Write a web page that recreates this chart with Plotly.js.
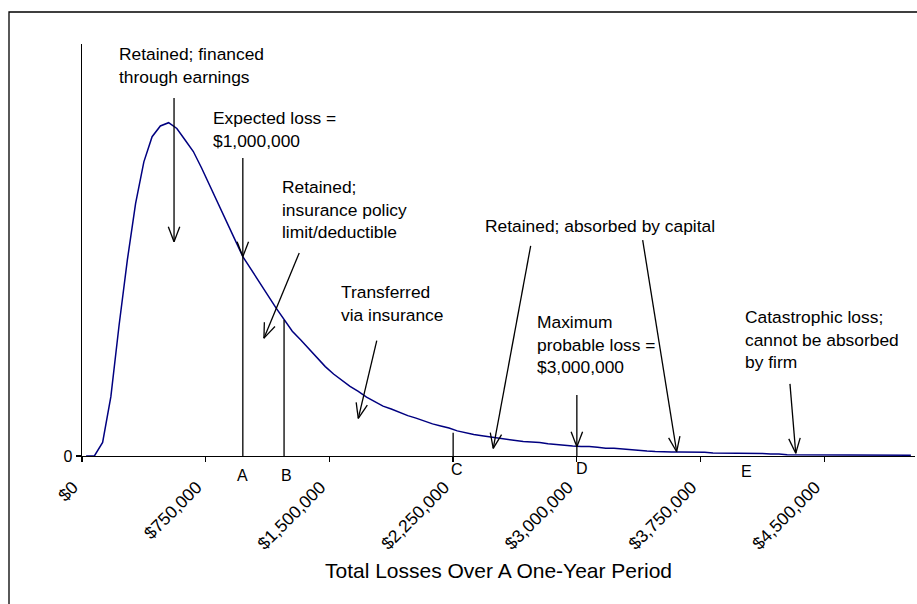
<!DOCTYPE html>
<html>
<head>
<meta charset="utf-8">
<script src="https://cdn.plot.ly/plotly-3.0.1.min.js"></script>
<style>
  html, body { margin: 0; padding: 0; background: #ffffff; }
  #chart { width: 917px; height: 604px; }
</style>
</head>
<body>
<div id="chart"></div>
<script>
// ---------------- data ----------------
// loss amount at the centre of each category (dollars)
const lossX = [
  25000, 75000, 125000, 175000, 225000, 275000, 325000, 375000, 425000, 475000,
  525000, 575000, 625000, 675000, 725000, 775000, 825000, 875000, 925000, 975000,
  1025000, 1075000, 1125000, 1175000, 1225000, 1275000, 1325000, 1375000, 1425000, 1475000,
  1525000, 1575000, 1625000, 1675000, 1725000, 1775000, 1825000, 1875000, 1925000, 1975000,
  2025000, 2075000, 2125000, 2175000, 2225000, 2275000, 2325000, 2375000, 2425000, 2475000,
  2525000, 2575000, 2625000, 2675000, 2725000, 2775000, 2825000, 2875000, 2925000, 2975000,
  3025000, 3075000, 3125000, 3175000, 3225000, 3275000, 3325000, 3375000, 3425000, 3475000,
  3525000, 3575000, 3625000, 3675000, 3725000, 3775000, 3825000, 3875000, 3925000, 3975000,
  4025000, 4075000, 4125000, 4175000, 4225000, 4275000, 4325000, 4375000, 4425000, 4475000,
  4525000, 4575000, 4625000, 4675000, 4725000, 4775000, 4825000, 4875000, 4925000, 4975000,
  5025000
];
// relative frequency (arbitrary units, axis top = 100)
const lossY = [
  0, 0, 3.3, 14.4, 31.8, 47.6, 61.3, 71.4, 77.5, 80.1,
  80.9, 79.5, 76.7, 73.9, 69.9, 65.5, 61.2, 57.0, 52.7, 48.4,
  45.4, 42.2, 39.1, 36.0, 33.0, 30.3, 28.2, 26.0, 23.8, 21.7,
  19.9, 18.3, 16.9, 15.7, 14.3, 13.2, 12.1, 11.4, 10.6, 9.8,
  9.2, 8.5, 7.8, 7.3, 6.8, 6.1, 5.6, 5.2, 4.9, 4.6,
  4.4, 4.0, 3.8, 3.5, 3.4, 3.3, 3.0, 2.8, 2.5, 2.4,
  2.3, 2.3, 2.1, 1.9, 1.9, 1.7, 1.5, 1.3, 1.2, 1.1,
  1.0, 1.0, 1.0, 1.0, 1.0, 0.9, 0.7, 0.7, 0.6, 0.6,
  0.6, 0.6, 0.6, 0.5, 0.5, 0.3, 0.3, 0.3, 0.3, 0.3,
  0.2, 0.2, 0.2, 0.2, 0.2, 0.2, 0.2, 0.2, 0.2, 0.2,
  0.2
];
const tickValues = [0, 750000, 1500000, 2250000, 3000000, 3750000, 4500000];
const tickLabels = ['$0', '$750,000', '$1,500,000', '$2,250,000', '$3,000,000', '$3,750,000', '$4,500,000'];

// reference points A-E on the loss axis
const markLetters = ['A', 'B', 'C', 'D', 'E'];
const markLetterX = [976000, 1237000, 2271000, 3029000, 4030000];
const markLineX = [975000, 1225000, 2250000, 3000000];
const markLineTop = [lossY[19], lossY[24], 5.66, 2.26];

// explanatory notes
const noteTexts = [
  'Retained; financed<br>through earnings',
  'Expected loss =<br>$1,000,000',
  'Retained;<br>insurance policy<br>limit/deductible',
  'Transferred<br>via insurance',
  'Retained; absorbed by capital',
  'Maximum<br>probable loss =<br>$3,000,000',
  'Catastrophic loss;<br>cannot be absorbed<br>by firm'
];
// arrows: tail -> tip (data units)
const arrowTailX = [558000, 975000, 1317000, 1787000, 2720000, 3399000, 3000000, 4292000];
const arrowTailY = [86.9, 72.3, 49.3, 28.0, 51.0, 52.4, 14.8, 17.5];
const arrowTipX  = [558000, 975000, 1103000, 1675000, 2493000, 3605000, 3000000, 4327000];
const arrowTipY  = [52.0, lossY[19], 28.6, 9.15, 1.87, 1.04, 2.26, 0.66];

// ---------------- layout ----------------
const W = 917, H = 604;
const M = {l: 82, r: 2, t: 44, b: 148};
const PW = W - M.l - M.r, PH = H - M.t - M.b;
const XMAX = 5050000, YMAX = 100;
const px = v => (v - M.l) / PW;          // pixel -> paper x
const py = v => (M.t + PH - v) / PH;     // pixel -> paper y
const FONT = 'Liberation Sans, Arial, sans-serif';

// note positions (left edge px, block centre px)
const notePos = [[118, 65.7], [211.5, 129], [281, 209.7], [340, 303.8], [484, 226], [535.5, 344.7], [744, 339.2]];
const letterY = [475, 475, 469, 468, 471];

const annotations = [];
noteTexts.forEach((t, i) => {
  annotations.push({
    text: t, xref: 'paper', yref: 'paper', x: px(notePos[i][0]), y: py(notePos[i][1]),
    xanchor: 'left', yanchor: 'middle', align: 'left', showarrow: false, borderpad: 0,
    font: {family: FONT, size: 17.4, color: '#000'}
  });
});
markLetters.forEach((t, i) => {
  annotations.push({
    text: t, xref: 'x', yref: 'paper', x: markLetterX[i], y: py(letterY[i]),
    xanchor: 'center', yanchor: 'middle', showarrow: false, borderpad: 0,
    font: {family: FONT, size: 16, color: '#000'}
  });
});

const shapes = [];
// outer frame (top and left edges)
shapes.push({type: 'path', xref: 'paper', yref: 'paper',
  path: `M ${px(9)} ${py(640)} L ${px(9)} ${py(12)} L ${px(940)} ${py(12)}`,
  line: {color: '#000', width: 1.3}});
// vertical reference lines
markLineX.forEach((x, i) => {
  shapes.push({type: 'line', xref: 'x', yref: 'y', x0: x, x1: x, y0: 0, y1: markLineTop[i],
    line: {color: '#000', width: 1.3}});
});
// arrows
const kx = PW / XMAX, ky = PH / YMAX;
const HEAD_LEN = 16, HEAD_ANG = 21 * Math.PI / 180;
arrowTailX.forEach((tx, i) => {
  const hx = arrowTipX[i], hy = arrowTipY[i];
  shapes.push({type: 'line', xref: 'x', yref: 'y', x0: tx, y0: arrowTailY[i], x1: hx, y1: hy,
    line: {color: '#000', width: 1.3}});
  const dx = (tx - hx) * kx, dy = (arrowTailY[i] - hy) * ky;
  const a = Math.atan2(dy, dx);
  [-HEAD_ANG, HEAD_ANG].forEach(d => {
    shapes.push({type: 'line', xref: 'x', yref: 'y', xsizemode: 'pixel', ysizemode: 'pixel',
      xanchor: hx, yanchor: hy, x0: 0, y0: 0,
      x1: HEAD_LEN * Math.cos(a + d), y1: HEAD_LEN * Math.sin(a + d),
      line: {color: '#000', width: 1.3}});
  });
});

const trace = {
  x: lossX, y: lossY, type: 'scatter', mode: 'lines',
  line: {color: '#000080', width: 1.5}, hoverinfo: 'skip', showlegend: false
};

const layout = {
  width: W, height: H, margin: M,
  paper_bgcolor: '#ffffff', plot_bgcolor: '#ffffff',
  font: {family: FONT, color: '#000'},
  showlegend: false,
  xaxis: {
    range: [0, XMAX], showgrid: false, zeroline: false,
    showline: true, linecolor: '#000', linewidth: 1.3,
    ticks: 'outside', ticklen: 5, tickwidth: 1.3, tickcolor: '#000',
    tickvals: tickValues, ticktext: tickLabels, tickangle: -45,
    ticklabelshift: -9, ticklabelstandoff: 8,
    tickfont: {family: FONT, size: 17.5, color: '#000'},
    title: {text: 'Total Losses Over A One-Year Period', font: {family: FONT, size: 21, color: '#000'}, standoff: 10}
  },
  yaxis: {
    range: [0, YMAX], showgrid: false, zeroline: false,
    showline: true, linecolor: '#000', linewidth: 1.3,
    ticks: 'outside', ticklen: 5, tickwidth: 1.3, tickcolor: '#000',
    tickvals: [0], ticktext: ['0'],
    tickfont: {family: FONT, size: 16, color: '#000'}
  },
  annotations: annotations,
  shapes: shapes
};

Plotly.newPlot('chart', [trace], layout, {displayModeBar: false, staticPlot: true});
</script>
</body>
</html>
